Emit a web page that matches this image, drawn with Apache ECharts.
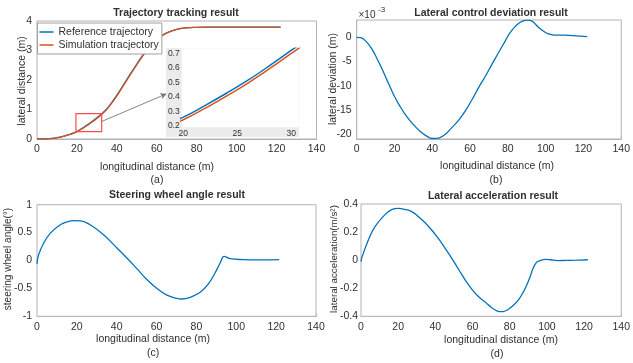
<!DOCTYPE html>
<html><head><meta charset="utf-8">
<script src="https://cdn.jsdelivr.net/npm/echarts@6/dist/echarts.min.js"></script>
<style>html,body{margin:0;padding:0;background:#fff}#c{width:633px;height:363px}</style>
</head><body><div id="c"></div>
<script>
// ---------- data ----------
const seriesNames = ['Reference trajectory', 'Simulation tracjectory'];

// (a) trajectory
const trajX = [0,5,10,15,18,20,22,24,26,28,30,32,35,38,41,44,47,50,53,56,59,62,65,70,75,80,85,90,100,110,122];
const refY  = [0,0.005,0.045,0.13,0.2,0.26,0.34,0.425,0.515,0.615,0.72,0.83,1.03,1.29,1.59,1.91,2.23,2.54,2.84,3.1,3.31,3.48,3.6,3.72,3.77,3.785,3.79,3.79,3.79,3.79,3.79];
const simY  = [0,0.004,0.04,0.12,0.185,0.242,0.32,0.405,0.495,0.594,0.699,0.808,1.005,1.265,1.565,1.885,2.205,2.52,2.82,3.085,3.3,3.47,3.595,3.717,3.77,3.786,3.793,3.793,3.791,3.79,3.79];

// (b) lateral deviation (x 1e-3 m)
const devX = [0,2,4,6,8,10,13,16,19.6,23,26.5,30.2,33.5,37,40,43.5,47,50.5,54,57.5,61,64.5,68,71.4,75,78.4,81,83.6,86,88,89.5,90.6,91.8,93,94.1,96.5,99.3,101.5,103.7,106.5,109.8,116,122];
const devY = [0,-0.05,-0.5,-1.3,-2.4,-3.8,-6.2,-8.8,-11.9,-14.3,-16.4,-18.1,-19.4,-20.4,-20.9,-20.8,-20,-18.6,-17.1,-15.2,-12.9,-10.4,-8.1,-5.7,-3.2,-0.9,0.85,2.1,2.95,3.35,3.5,3.54,3.49,3.28,2.92,1.95,1.15,0.72,0.52,0.46,0.44,0.3,0.13];

// (c) steering wheel angle
const steerX = [0,0.8,3.3,6.7,11.7,15,18.4,22,26.7,33.4,40.1,45.1,50.1,55.1,60.2,65.2,70.2,72.7,76.9,81.9,86,89.4,91.9,93.9,96.9,103.6,110.3,115,121.5];
const steerY = [-0.06,0.1,0.31,0.49,0.64,0.69,0.713,0.71,0.64,0.46,0.225,0.045,-0.146,-0.34,-0.5,-0.62,-0.68,-0.69,-0.66,-0.57,-0.42,-0.22,-0.045,0.075,0.033,0.015,0.01,0.01,0.015];

// (d) lateral acceleration
const accX = [0,0.5,4,7.6,12.9,16.5,20,23.5,27.1,30.5,34.2,38,41.3,45,48.5,52.7,56,59.8,63,66.9,70,72.5,74.5,76.5,79.3,82,84.6,87,89,91,92.5,94.3,96,98,99.6,102,105.8,110,116,122];
const accY = [-0.01,0.02,0.146,0.24,0.324,0.36,0.369,0.362,0.348,0.315,0.27,0.215,0.16,0.09,0.02,-0.07,-0.14,-0.21,-0.257,-0.3,-0.335,-0.357,-0.367,-0.366,-0.35,-0.322,-0.285,-0.235,-0.182,-0.118,-0.06,-0.018,-0.005,0.004,0.006,0.003,-0.003,-0.002,0,0.003];

// tick labels
const devTicks = [-20,-15,-10,-5,0];
const insetXTicks = [20,25,30];
const insetYTicks = [0.2,0.3,0.4,0.5,0.6,0.7];

// zoom box and arrow (data coordinates of panel a)
const zoomBox = [[19.5,0.25],[32.4,0.86]];
const arrowLine = [[32.3,0.59],[64.8,1.53]];

// ---------- chart ----------
const FF = '"Liberation Sans", Arial, sans-serif';
const BOX = '#b3b3b3';
const TXT = '#303030';
const BLUE = '#0072BD', ORANGE = '#D95319';
function pairs(xs, ys){ return xs.map((x,i)=>[x, ys[i]]); }

function vAxis(grid, extra){
  return Object.assign({
    type:'value', gridIndex:grid,
    axisLine:{show:true, onZero:false, lineStyle:{color:BOX,width:1}},
    axisTick:{show:true, inside:true, length:3, lineStyle:{color:BOX}},
    splitLine:{show:false},
    axisLabel:{color:TXT, fontSize:10.5, fontFamily:FF, margin:5, showMinLabel:true, showMaxLabel:true}
  }, extra);
}
function xMain(grid){ return vAxis(grid, {min:0, max:140, interval:20}); }

const grids = [
  {left:37, top:21, width:279.5, height:118},
  {left:356.7, top:20, width:267.8, height:119},
  {left:37, top:204.7, width:279, height:111.6},
  {left:361, top:204, width:263.5, height:112.3},
  {left:181.7, top:48.3, width:117, height:79}
].map((g,i)=>Object.assign({show:true, borderColor: i===4?'transparent':BOX, borderWidth: i===4?0:1, backgroundColor:'#fff', z: i===4?11:2}, g));

const insetLabel = {color:TXT, fontSize:8.5, fontFamily:FF, margin:2};

const xAxes = [
  xMain(0), xMain(1), xMain(2), xMain(3),
  {type:'value', gridIndex:4, min:19.85, max:30.7, z:12,
   axisLine:{show:false}, axisTick:{show:false}, splitLine:{show:false},
   axisLabel:Object.assign({customValues:insetXTicks, showMinLabel:true, showMaxLabel:true}, insetLabel)}
];
const yAxes = [
  vAxis(0, {min:0, max:4, interval:1}),
  vAxis(1, {min:-21, max:3.57, axisLabel:{color:TXT, fontSize:10.5, fontFamily:FF, margin:5, customValues:devTicks},
            axisTick:{show:true, inside:true, length:3, lineStyle:{color:BOX}, customValues:devTicks}}),
  vAxis(2, {min:-1, max:1, interval:0.5}),
  vAxis(3, {min:-0.4, max:0.4, interval:0.2, axisLabel:{color:TXT, fontSize:10.5, fontFamily:FF, margin:3, showMinLabel:true, showMaxLabel:true}}),
  {type:'value', gridIndex:4, min:0.19, max:0.735, z:12,
   axisLine:{show:false}, axisTick:{show:false}, splitLine:{show:false},
   axisLabel:Object.assign({customValues:insetYTicks}, insetLabel)}
];

function line(name, xi, data, color, extra){
  return Object.assign({
    type:'line', name:name, xAxisIndex:xi, yAxisIndex:xi, data:data,
    showSymbol:false, symbol:'none', smooth:0.4, clip:true,
    lineStyle:{color:color, width:1.3}, itemStyle:{color:color}, animation:false
  }, extra||{});
}

const series = [
  line(seriesNames[0], 0, pairs(trajX, refY), BLUE, {
    markArea:{silent:true, z:5, itemStyle:{color:'rgba(255,255,255,0)', borderColor:'#ff4d4d', borderWidth:1.2, borderType:'solid'},
      label:{show:false},
      data:[[{xAxis:zoomBox[0][0], yAxis:zoomBox[0][1]},{xAxis:zoomBox[1][0], yAxis:zoomBox[1][1]}]]},
    markLine:{silent:true, symbol:['none','arrow'], symbolSize:[5,6], label:{show:false},
      lineStyle:{color:'#777', width:0.9, type:'solid'},
      data:[[{coord:arrowLine[0], symbol:'none'},{coord:arrowLine[1], symbol:'arrow', itemStyle:{color:'#111'}}]]}
  }),
  line(seriesNames[1], 0, pairs(trajX, simY), ORANGE),
  line('dev', 1, pairs(devX, devY), BLUE),
  line('steer', 2, pairs(steerX, steerY), BLUE),
  line('acc', 3, pairs(accX, accY), BLUE),
  line(seriesNames[0], 4, pairs(trajX, refY), BLUE, {z:13, lineStyle:{color:BLUE, width:1.5}}),
  line(seriesNames[1], 4, pairs(trajX, simY), ORANGE, {z:13, lineStyle:{color:ORANGE, width:1.5}})
];

function txt(x, y, text, opt){
  opt = opt || {};
  return {type:'text', x:x, y:y, rotation:opt.rot||0, z:30, silent:true,
    style:{text:text, font:(opt.bold?'bold ':'') + (opt.size||10.5) + 'px ' + FF,
      fill:TXT, align:opt.align||'center', verticalAlign:'middle',
      textAlign:opt.align||'center', textVerticalAlign:'middle'}};
}

const graphics = [
  {type:'rect', shape:{x:166, y:48, width:133, height:89}, style:{fill:'#ebebeb'}, z:10, silent:true},
  txt(176, 13, 'Trajectory tracking result', {bold:true}),
  txt(491, 13, 'Lateral control deviation result', {bold:true}),
  txt(177, 195, 'Steering wheel angle result', {bold:true}),
  txt(493, 196, 'Lateral acceleration result', {bold:true}),
  txt(157, 167, 'longitudinal distance (m)'),
  txt(497, 166, 'longitudinal distance (m)'),
  txt(153, 339, 'longitudinal distance (m)'),
  txt(501, 340.5, 'longitudinal distance (m)'),
  txt(157, 180, '(a)'),
  txt(496, 180, '(b)'),
  txt(153, 353, '(c)'),
  txt(497, 354, '(d)'),
  txt(21.7, 81, 'lateral distance (m)', {rot:Math.PI/2}),
  txt(333, 79, 'lateral deviation (m)', {rot:Math.PI/2}),
  txt(8.5, 259, 'steering wheel angle(°)', {rot:Math.PI/2, size:10}),
  txt(334, 259, 'lateral acceleration(m/s²)', {rot:Math.PI/2, size:9.8}),
  txt(358.5, 15, '×10', {align:'left', size:10}),
  txt(378, 10, '-3', {align:'left', size:8})
];

const chart = echarts.init(document.getElementById('c'), null, {renderer:'canvas'});
chart.setOption({
  animation:false,
  backgroundColor:'#fff',
  textStyle:{fontFamily:FF},
  grid:grids, xAxis:xAxes, yAxis:yAxes, series:series,
  legend:{data:seriesNames, orient:'vertical', left:37.5, top:23, z:20,
    icon:'rect', backgroundColor:'#fff', borderColor:'#a0a0a0', borderWidth:1, borderRadius:0,
    padding:[3,3,3,2], itemGap:1, itemWidth:14, itemHeight:1.5,
    textStyle:{fontSize:10.5, color:TXT, fontFamily:FF, lineHeight:12}},
  graphic:graphics
});
</script></body></html>
